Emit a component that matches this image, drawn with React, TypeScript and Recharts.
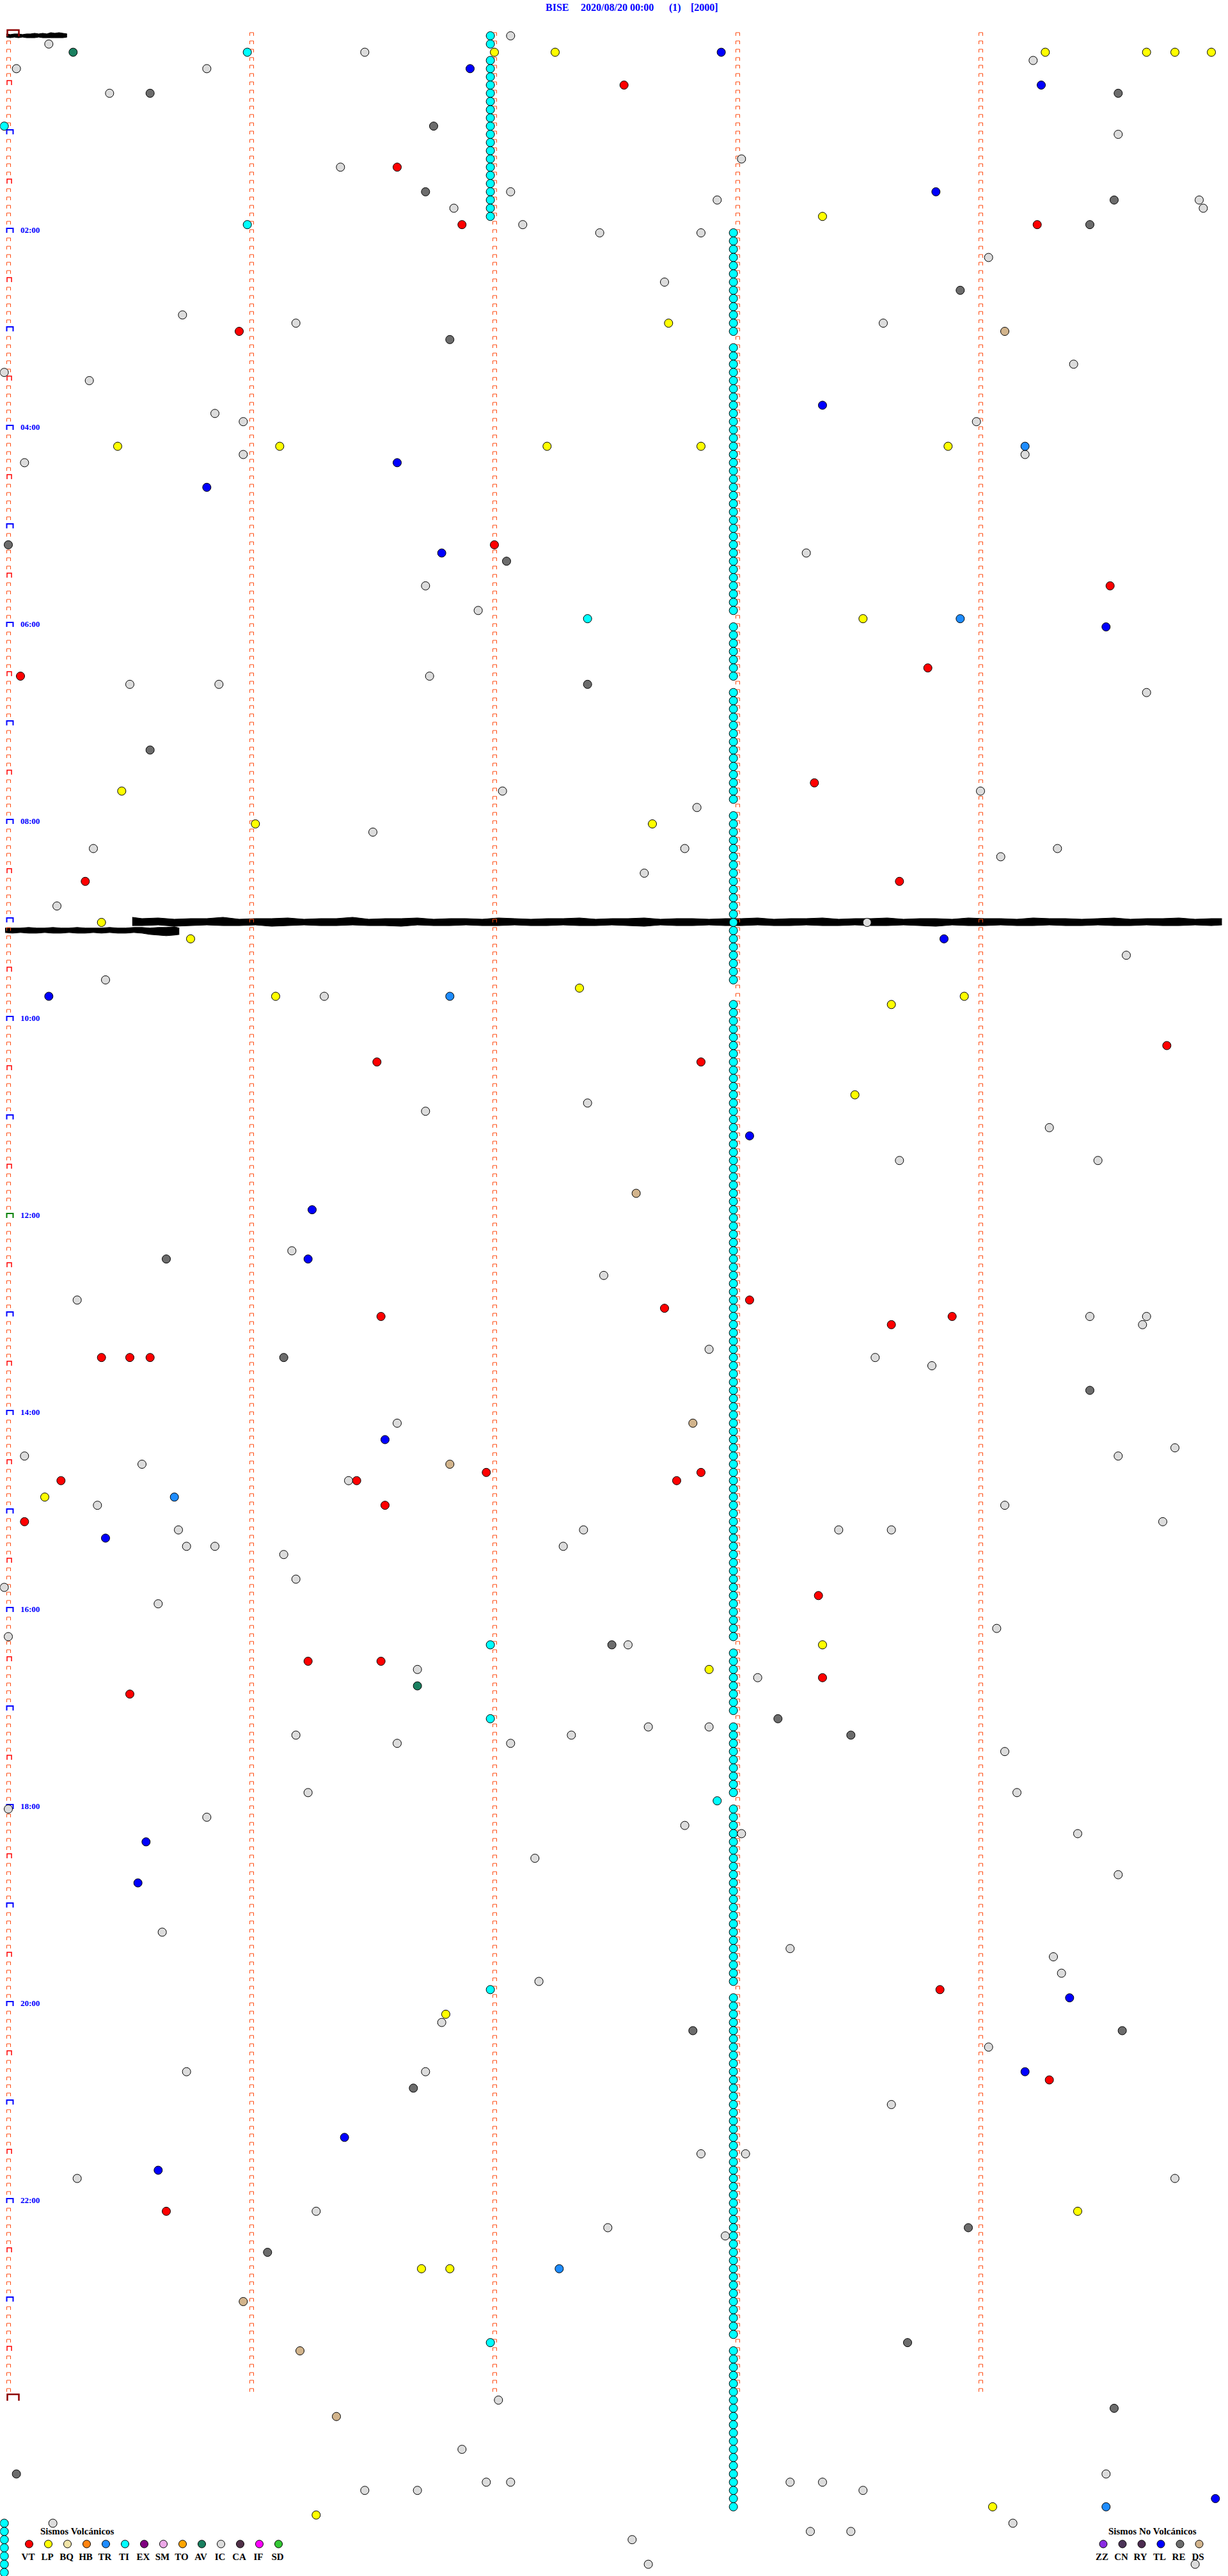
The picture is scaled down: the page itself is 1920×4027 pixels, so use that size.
import React from "react";
import { ComposedChart, Scatter, Area, XAxis, YAxis } from "recharts";

// BISE drum plot, 2020/08/20: one line per 5 minutes (288 lines), x = seconds in the line
// events are [line, seconds]
const VT = [[6,152],[16,96],[23,112],[23,254],[36,57],[62,120],[67,272],[77,227],[78,3],[91,199],[103,19],[103,220],[123,286],[125,91],[125,171],[154,183],[155,162],[156,92],[156,233],[157,218],[161,23],[161,30],[161,35],[175,118],[175,171],[176,13],[176,86],[176,165],[179,93],[181,4],[190,200],[198,74],[198,92],[200,201],[202,30],[238,230],[249,257],[265,39]];
const LP = [[2,120],[2,135],[2,256],[2,281],[2,288],[2,297],[22,201],[35,163],[50,27],[50,67],[50,133],[50,171],[50,232],[71,211],[92,28],[96,61],[96,159],[108,23],[110,45],[116,141],[117,66],[117,236],[118,218],[129,209],[178,9],[196,201],[199,173],[241,108],[265,264],[272,102],[272,109],[301,243],[302,76]];
const TR = [[50,251],[71,235],[117,109],[178,41],[272,136],[301,271]];
const TL = [[2,176],[4,114],[6,255],[19,229],[45,201],[52,96],[55,49],[63,107],[72,271],[110,231],[117,10],[134,183],[143,75],[149,74],[171,93],[183,24],[220,34],[225,32],[239,262],[248,251],[256,83],[260,37],[300,298]];
const AV = [[2,16],[201,101]];
const DS = [[36,246],[141,155],[169,169],[174,109],[276,58],[282,72],[290,81]];
const RE = [[7,35],[7,274],[11,105],[19,103],[20,273],[23,267],[31,235],[37,109],[62,0],[64,123],[79,143],[87,35],[149,39],[161,68],[165,267],[196,149],[205,190],[207,208],[243,169],[243,275],[250,100],[267,237],[270,64],[281,222],[289,273],[297,2]];
const IC = [[0,124],[1,10],[2,88],[3,253],[4,2],[4,49],[7,25],[12,274],[15,181],[16,82],[19,124],[20,175],[20,294],[21,110],[21,295],[23,127],[24,146],[24,171],[27,242],[30,162],[34,43],[35,71],[35,216],[40,263],[41,-1],[42,20],[46,51],[47,58],[47,239],[51,58],[51,251],[52,4],[63,197],[67,103],[70,116],[78,104],[79,30],[79,52],[80,281],[92,122],[92,240],[94,170],[97,90],[99,21],[99,167],[99,259],[100,245],[102,157],[106,12],[108,212],[112,276],[115,24],[117,78],[130,143],[131,103],[133,257],[137,220],[137,269],[148,70],[151,147],[154,17],[156,267],[156,281],[157,280],[160,173],[161,214],[162,228],[169,96],[172,288],[173,4],[173,274],[174,33],[176,84],[179,22],[179,246],[181,285],[182,42],[182,142],[182,205],[182,218],[184,44],[184,51],[184,137],[185,68],[188,71],[189,-1],[191,37],[194,244],[195,0],[196,153],[199,101],[200,185],[206,158],[206,173],[207,71],[207,139],[208,96],[208,124],[209,246],[214,74],[214,249],[216,0],[217,49],[218,167],[219,181],[219,264],[222,130],[224,274],[231,38],[233,193],[234,258],[236,260],[237,131],[242,107],[245,242],[248,44],[248,103],[252,218],[258,171],[258,182],[261,17],[261,288],[265,76],[267,148],[268,177],[288,121],[294,112],[297,271],[298,118],[298,124],[298,193],[298,201],[299,88],[299,101],[299,211],[303,11],[303,248],[304,198],[304,208],[305,154],[308,158],[308,293]];
const TI = [[2,59],[23,59],[11,-1],[71,143],[196,119],[205,119],[238,119],[281,119],[215,175]];
// tremor (TI) picked on consecutive lines: [seconds, first line, last line]
const TI_RUNS = [[119,0,1],[119,3,22],[179,24,36],[179,38,70],[179,72,78],[179,80,93],[179,95,115],[179,118,195],[179,197,204],[179,206,214],[179,216,237],[179,239,280],[179,282,301],[-1,303,309]];

// seismogram pieces: [seconds, low, high] amplitude around the line
const TRACE_L0 = [[-0.5,-3,2],[0.5,-2,3],[1.5,-3,2],[2.5,-3,3],[3.5,-2,2],[4.5,-3,3],[5.5,-3,3],[6.5,-4,3],[7.5,-3,2],[8.5,-4,3],[9.5,-3,3],[10.5,-5,3],[11.5,-4,3],[12.5,-5,3],[13.5,-4,3],[14.5,-3,2]];
const TRACE_L108 = [[30.6,-8,5],[33,-6,5],[37,-7,4],[41,-5,6],[45,-6,5],[49,-6,4],[53,-8,5],[57,-5,5],[61,-6,4],[65,-6,6],[69,-7,5],[73,-5,4],[77,-6,5],[81,-6,5],[85,-8,4],[89,-5,5],[93,-6,5],[97,-6,6],[101,-7,4],[105,-5,5],[109,-6,5],[113,-6,4],[117,-5,5],[121,-7,5],[125,-6,4],[129,-5,5],[133,-6,5],[137,-6,4],[141,-7,5],[145,-5,5],[149,-6,4],[153,-6,5],[157,-7,6],[161,-5,4],[165,-6,5],[169,-6,5],[173,-5,4],[177,-6,5],[181,-6,5],[185,-7,4],[189,-5,5],[193,-6,5],[197,-6,4],[201,-7,5],[205,-5,5],[209,-6,4],[213,-6,5],[217,-7,5],[221,-5,4],[225,-6,5],[229,-6,6],[233,-5,4],[237,-7,5],[241,-6,5],[245,-6,4],[249,-5,5],[253,-7,5],[257,-6,4],[261,-6,5],[265,-5,5],[269,-6,4],[273,-7,5],[277,-5,5],[281,-6,4],[285,-6,5],[289,-7,5],[293,-5,4],[297,-6,5],[299.6,-6,4]];
const TRACE_L109 = [[-0.8,-4,3],[1,-4,4],[3,-4,3],[5,-5,4],[7,-4,4],[9,-4,3],[11,-5,4],[13,-4,4],[15,-4,3],[17,-5,4],[19,-4,4],[21,-4,3],[23,-4,4],[25,-5,3],[27,-4,4],[29,-4,4],[31,-5,3],[33,-5,4],[35,-4,6],[37,-5,7],[39,-5,8],[41,-6,7],[42.2,-4,6]];

const HOUR_LABELS = ["02:00","04:00","06:00","08:00","10:00","12:00","14:00","16:00","18:00","20:00","22:00"];
const VOLC_TYPES = ["VT","LP","BQ","HB","TR","TI","EX","SM","TO","AV","IC","CA","IF","SD"];
const NONVOLC_TYPES = ["ZZ","CN","RY","TL","RE","DS"];

const COLORS: Record<string, string> = {
  VT: "#ff0000", LP: "#ffff00", BQ: "#f0e4a8", HB: "#ff8410", TR: "#1e8cff", TI: "#00ffff",
  EX: "#800080", SM: "#eca8e8", TO: "#ffa500", AV: "#1a8060", IC: "#dcdcdc", CA: "#503048",
  IF: "#ff00ff", SD: "#34c834", ZZ: "#8a2be2", CN: "#4c3458", RY: "#4c2c50", TL: "#0000ff",
  RE: "#6c6c6c", DS: "#d2b48c",
};

const LINES = 288;
const AMP_PER_LINE = 12.83;
const W = 1920;
const H = 4100;

const pts = (list: number[][]) => list.map(([row, sec]) => ({ x: sec, y: row }));
const trace = (row: number, list: number[][]) =>
  list.map(([sec, lo, hi]) => ({ x: sec, y: [row + lo / AMP_PER_LINE, row + hi / AMP_PER_LINE] }));

const tiPoints = [
  ...pts(TI),
  ...TI_RUNS.flatMap(([sec, a, b]) => {
    const out = [];
    for (let r = a; r <= b; r++) out.push({ x: sec, y: r });
    return out;
  }),
];

const brackets: { x: number; y: number; kind: string }[] = [];
for (let r = 0; r <= LINES; r++) {
  let kind = "min";
  if (r === 0 || r === LINES) kind = "day";
  else if (r === 144) kind = "noon";
  else if (r % 12 === 0) kind = "hour";
  else if (r % 6 === 0) kind = "half";
  brackets.push({ x: 0, y: r, kind });
}
for (let m = 1; m <= 4; m++) {
  for (let r = 0; r < LINES; r++) brackets.push({ x: m * 60, y: r, kind: "min" });
}

const BRACKET: Record<string, { l: number; r: number; h: number; b: number; w: number; c: string }> = {
  min: { l: -3, r: 3, h: 5, b: 0, w: 1, c: "#ff4a10" },
  half: { l: -2.5, r: 4.5, h: 7, b: 0, w: 1.5, c: "#ff0000" },
  hour: { l: -3, r: 7, h: 7, b: 0, w: 2, c: "#0000ff" },
  noon: { l: -3, r: 7, h: 7, b: 0, w: 2, c: "#008000" },
  day: { l: -2, r: 16, h: 9, b: 1, w: 2.5, c: "#8b0000" },
};

const bracketShape = (p: any) => {
  const s = BRACKET[p.payload.kind];
  const x = Math.round(p.cx) + 0.5;
  const y = Math.round(p.cy);
  return (
    <path
      d={`M${x + s.l},${y + s.b} V${y - s.h} H${x + s.r} V${y + s.b}`}
      fill="none"
      stroke={s.c}
      strokeWidth={s.w}
    />
  );
};

const dot = (fill: string) => (p: any) => (
  <circle cx={p.cx} cy={p.cy} r={6.5} fill={fill} stroke="#000" strokeWidth={1} />
);

const labelShape = (p: any) => (
  <text x={p.cx + 19} y={p.cy} fontFamily="Liberation Serif, serif" fontWeight="bold" fontSize={13} fill="#0000ff">
    {p.payload.label}
  </text>
);

const hourLabels = HOUR_LABELS.map((label) => ({ x: 0, y: parseInt(label, 10) * 12, label }));

const serif = "Liberation Serif, Times New Roman, serif";

const Overlay = () => (
  <svg width={W} height={4027} style={{ position: "absolute", left: 0, top: 0, pointerEvents: "none" }}>
    <g fontFamily={serif} fontWeight="bold" fontSize={16} fill="#0000ff">
      <text x={853} y={17}>BISE</text>
      <text x={908} y={17}>2020/08/20 00:00</text>
      <text x={1046} y={17}>(1)</text>
      <text x={1080} y={17}>[2000]</text>
    </g>
    <g fontFamily={serif} fontWeight="bold" fontSize={15} fill="#000">
      <text x={63} y={3962}>Sismos Volcánicos</text>
      {VOLC_TYPES.map((t, i) => (
        <g key={t}>
          <circle cx={45.5 + i * 30} cy={3977} r={6} fill={COLORS[t]} stroke="#000" strokeWidth={1} />
          <text x={44 + i * 30} y={4002} textAnchor="middle">{t}</text>
        </g>
      ))}
      <text x={1733} y={3962}>Sismos No Volcánicos</text>
      {NONVOLC_TYPES.map((t, i) => (
        <g key={t}>
          <circle cx={1725 + i * 30} cy={3977} r={6} fill={COLORS[t]} stroke="#000" strokeWidth={1} />
          <text x={1723 + i * 30} y={4002} textAnchor="middle">{t}</text>
        </g>
      ))}
    </g>
  </svg>
);

const EVENT_SERIES: [string, { x: number; y: number }[]][] = [
  ["TI", tiPoints],
  ["IC", pts(IC)],
  ["RE", pts(RE)],
  ["DS", pts(DS)],
  ["AV", pts(AV)],
  ["TL", pts(TL)],
  ["TR", pts(TR)],
  ["LP", pts(LP)],
  ["VT", pts(VT)],
];

export default function App() {
  return (
    <div style={{ position: "absolute", left: 0, top: 0, width: W, height: 4027, overflow: "hidden", background: "#fff" }}>
      <ComposedChart
        width={W}
        height={H}
        margin={{ top: 56 - 4 * (154 / 12), right: 0.667, bottom: H - 56 - 312 * (154 / 12), left: 13 - 2 * (1900 / 300) }}
      >
        <XAxis dataKey="x" type="number" domain={[-2, 301]} allowDataOverflow hide />
        <YAxis dataKey="y" type="number" domain={[-4, 312]} reversed allowDataOverflow hide />
        <Scatter data={brackets} shape={bracketShape} isAnimationActive={false} />
        <Area data={trace(0, TRACE_L0)} dataKey="y" type="linear" stroke="#000" strokeWidth={1} fill="#000" fillOpacity={1} dot={false} activeDot={false} isAnimationActive={false} />
        <Area data={trace(108, TRACE_L108)} dataKey="y" type="linear" stroke="#000" strokeWidth={1} fill="#000" fillOpacity={1} dot={false} activeDot={false} isAnimationActive={false} />
        <Area data={trace(109, TRACE_L109)} dataKey="y" type="linear" stroke="#000" strokeWidth={1} fill="#000" fillOpacity={1} dot={false} activeDot={false} isAnimationActive={false} />
        {EVENT_SERIES.map(([t, data]) => (
          <Scatter key={t} name={t} data={data} shape={dot(COLORS[t])} isAnimationActive={false} />
        ))}
        <Scatter data={hourLabels} shape={labelShape} isAnimationActive={false} />
      </ComposedChart>
      <Overlay />
    </div>
  );
}
